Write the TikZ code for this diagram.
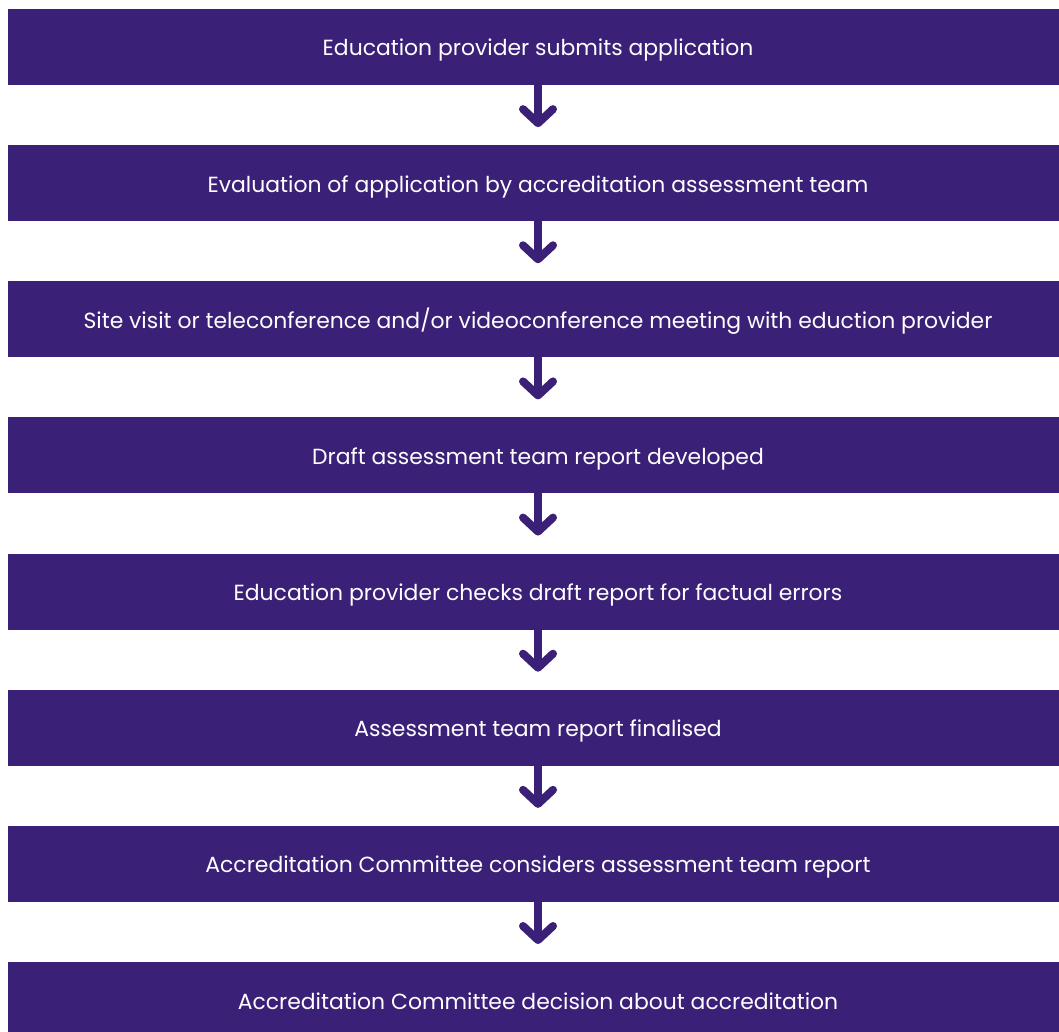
\documentclass[tikz,border=0pt]{standalone}
\usepackage{fontspec}
\setmainfont{Poppins}
\usetikzlibrary{arrows.meta}
\definecolor{flowpurple}{RGB}{59,32,120}
\begin{document}
\begin{tikzpicture}[x=1pt,y=-1pt,
  stagebox/.style={fill=flowpurple, draw=none, anchor=north, inner sep=0pt, outer sep=0pt,
    minimum width=1060pt, minimum height=76pt, text=white,
    text height=18pt, text depth=0pt,
    font=\fontsize{21.9}{26}\selectfont},
  flowarrow/.style={draw=flowpurple, line width=8pt,
    -{Straight Barb[round,length=14pt,width=30pt]}, shorten >=18pt}]
\useasboundingbox[fill=white] (0,0) rectangle (1059,1032);
\begin{scope}
\clip (0,0) rectangle (1059,1032);
\node[stagebox] (s1) at (538,9) {Education provider submits application};
\node[stagebox] (s2) at (538,145.14) {Evaluation of application by accreditation assessment team};
\node[stagebox] (s3) at (538,281.28) {Site visit or teleconference and/or videoconference meeting with eduction provider};
\node[stagebox] (s4) at (538,417.42) {Draft assessment team report developed};
\node[stagebox] (s5) at (538,553.56) {Education provider checks draft report for factual errors};
\node[stagebox] (s6) at (538,689.7) {Assessment team report finalised};
\node[stagebox] (s7) at (538,825.84) {Accreditation Committee considers assessment team report};
\node[stagebox] (s8) at (538,962) {Accreditation Committee decision about accreditation};
\end{scope}
\foreach \a/\b in {s1/s2,s2/s3,s3/s4,s4/s5,s5/s6,s6/s7,s7/s8}
  \draw[flowarrow] (\a.south) -- (\b.north);
\end{tikzpicture}
\end{document}
